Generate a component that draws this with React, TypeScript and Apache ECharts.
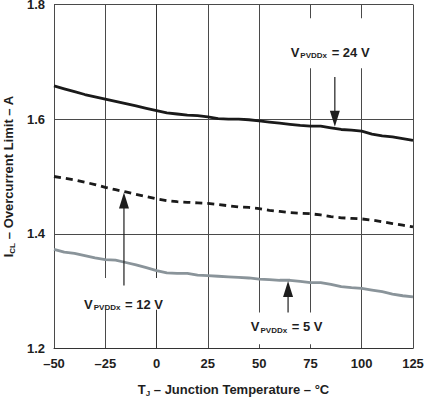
import React, { useEffect, useRef } from 'react';
import * as echarts from 'echarts';

const temps = [-50, -45, -40, -35, -30, -25, -20, -15, -10, -5, 0, 5, 10, 15, 20, 25, 30, 35, 40, 45, 50, 55, 60, 65, 70, 75, 80, 85, 90, 95, 100, 105, 110, 115, 120, 125];
const icl24V = [1.658, 1.653, 1.648, 1.643, 1.639, 1.635, 1.631, 1.627, 1.623, 1.619, 1.615, 1.611, 1.609, 1.607, 1.606, 1.604, 1.601, 1.6, 1.6, 1.599, 1.597, 1.595, 1.593, 1.591, 1.589, 1.588, 1.588, 1.585, 1.582, 1.581, 1.579, 1.574, 1.571, 1.569, 1.566, 1.563];
const icl12V = [1.5, 1.497, 1.494, 1.49, 1.486, 1.481, 1.477, 1.473, 1.469, 1.465, 1.461, 1.458, 1.456, 1.455, 1.454, 1.453, 1.451, 1.449, 1.447, 1.446, 1.444, 1.441, 1.439, 1.437, 1.436, 1.435, 1.433, 1.43, 1.428, 1.427, 1.426, 1.424, 1.421, 1.418, 1.415, 1.412];
const icl5V = [1.373, 1.368, 1.366, 1.362, 1.358, 1.355, 1.354, 1.35, 1.346, 1.341, 1.336, 1.332, 1.331, 1.331, 1.328, 1.327, 1.326, 1.325, 1.324, 1.323, 1.321, 1.32, 1.319, 1.319, 1.317, 1.315, 1.315, 1.312, 1.308, 1.306, 1.305, 1.302, 1.299, 1.295, 1.292, 1.29];

const xMin = -50, xMax = 125, xStep = 25;
const yMin = 1.2, yMax = 1.8, yStep = 0.2;

// annotation: supply voltage, label centre, white box corners, arrow start / tip (data coords)
const annVolts = ['24', '12', '5'];
const annLabelAt = [[84.6, 1.717], [-16.1, 1.277], [63.4, 1.2376]];
const annBox = [[[60.2, 1.776], [108.0, 1.689]], [[-38.3, 1.323], [6.6, 1.2675]], [[40.7, 1.263], [86.0, 1.2073]]];
const annArrowFrom = [[86.9, 1.6735], [-15.9, 1.31], [64.1, 1.263]];
const annArrowTo = [[86.9, 1.5866], [-15.9, 1.4723], [64.1, 1.3176]];

const FONT = '"Liberation Sans", Arial, Helvetica, sans-serif';
const TXT = '#1e1e1e';

export default function App() {
  const ref = useRef<HTMLDivElement>(null);
  useEffect(() => {
    if (!ref.current) return;
    const chart = echarts.init(ref.current, null, { renderer: 'svg' });
    const mk = (arr: number[]) => temps.map((t, i) => [t, arr[i]]);
    chart.setOption({
      animation: false,
      backgroundColor: '#ffffff',
      grid: { left: 54, right: 11, top: 4.5, bottom: 48.5, containLabel: false, outerBoundsMode: 'none' },
      xAxis: {
        type: 'value', min: xMin, max: xMax, interval: xStep,
        name: '{b|T}{s|J}{b| – Junction Temperature – °C}',
        nameLocation: 'middle', nameGap: 33,
        nameTextStyle: {
          rich: {
            b: { fontFamily: FONT, fontWeight: 'bold', fontSize: 13, color: TXT, lineHeight: 16 },
            s: { fontFamily: FONT, fontWeight: 'bold', fontSize: 8, color: TXT, lineHeight: 16, padding: [7, 0, 0, 0] },
          },
        },
        axisLine: { show: true, lineStyle: { color: '#333', width: 1 } },
        axisTick: { show: false },
        axisLabel: {
          margin: 8, fontFamily: FONT, fontWeight: 'bold', fontSize: 13, color: TXT,
          formatter: (v: number) => (v < 0 ? '–' + Math.abs(v) : String(v)),
        },
        splitLine: { show: true, lineStyle: { color: '#4a4a4a', width: 1 } },
      },
      yAxis: {
        type: 'value', min: yMin, max: yMax, interval: yStep,
        name: '{b|I}{s|CL}{b| – Overcurrent Limit – A}',
        nameLocation: 'middle', nameGap: 33, nameRotate: 90,
        nameTextStyle: {
          rich: {
            b: { fontFamily: FONT, fontWeight: 'bold', fontSize: 13, color: TXT, lineHeight: 16 },
            s: { fontFamily: FONT, fontWeight: 'bold', fontSize: 8, color: TXT, lineHeight: 16, padding: [7, 0, 0, 0] },
          },
        },
        axisLine: { show: true, lineStyle: { color: '#333', width: 1 } },
        axisTick: { show: false },
        axisLabel: {
          margin: 9, fontFamily: FONT, fontWeight: 'bold', fontSize: 13, color: TXT,
          formatter: (v: number) => v.toFixed(1),
        },
        splitLine: { show: true, lineStyle: { color: '#4a4a4a', width: 1 } },
      },
      series: [
        { type: 'line', data: mk(icl24V), showSymbol: false, lineStyle: { color: '#1a1a1a', width: 2.8 }, z: 3 },
        { type: 'line', data: mk(icl12V), showSymbol: false, lineStyle: { color: '#1a1a1a', width: 2.8, type: [7, 5] }, z: 3 },
        { type: 'line', data: mk(icl5V), showSymbol: false, lineStyle: { color: '#8a949a', width: 2.8 }, z: 3 },
      ],
    });

    const px = (p: number[]) => chart.convertToPixel({ gridIndex: 0 }, p) as number[];
    const graphics: any[] = [];
    annVolts.forEach((v, i) => {
      const b0 = px(annBox[i][0]);
      const b1 = px(annBox[i][1]);
      graphics.push({
        type: 'rect', z: 5,
        shape: { x: Math.min(b0[0], b1[0]), y: Math.min(b0[1], b1[1]), width: Math.abs(b1[0] - b0[0]), height: Math.abs(b1[1] - b0[1]) },
        style: { fill: '#ffffff' },
      });
      const from = px(annArrowFrom[i]);
      const to = px(annArrowTo[i]);
      const dir = to[1] > from[1] ? 1 : -1;
      const headLen = 16, half = 5;
      graphics.push({
        type: 'line', z: 6,
        shape: { x1: from[0], y1: from[1], x2: to[0], y2: to[1] - dir * headLen + dir * 2 },
        style: { stroke: '#1e1e1e', lineWidth: 1.2 },
      });
      graphics.push({
        type: 'polygon', z: 6,
        shape: { points: [[to[0], to[1]], [to[0] - half, to[1] - dir * headLen], [to[0] + half, to[1] - dir * headLen]] },
        style: { fill: '#1e1e1e' },
      });
      const lp = px(annLabelAt[i]);
      graphics.push({
        type: 'text', z: 7, x: lp[0], y: lp[1],
        style: {
          text: '{b|V}{s|PVDDx}{b| = ' + v + ' V}',
          align: 'center', verticalAlign: 'middle',
          rich: {
            b: { fontFamily: FONT, fontWeight: 'bold', fontSize: 13, fill: TXT, lineHeight: 16 },
            s: { fontFamily: FONT, fontWeight: 'bold', fontSize: 8, fill: TXT, lineHeight: 16, padding: [7, 1, 0, 1] },
          },
        },
      });
    });
    chart.setOption({ graphic: graphics });

    return () => chart.dispose();
  }, []);
  return <div ref={ref} style={{ width: 424, height: 397, position: 'absolute', left: 0, top: 0 }} />;
}
